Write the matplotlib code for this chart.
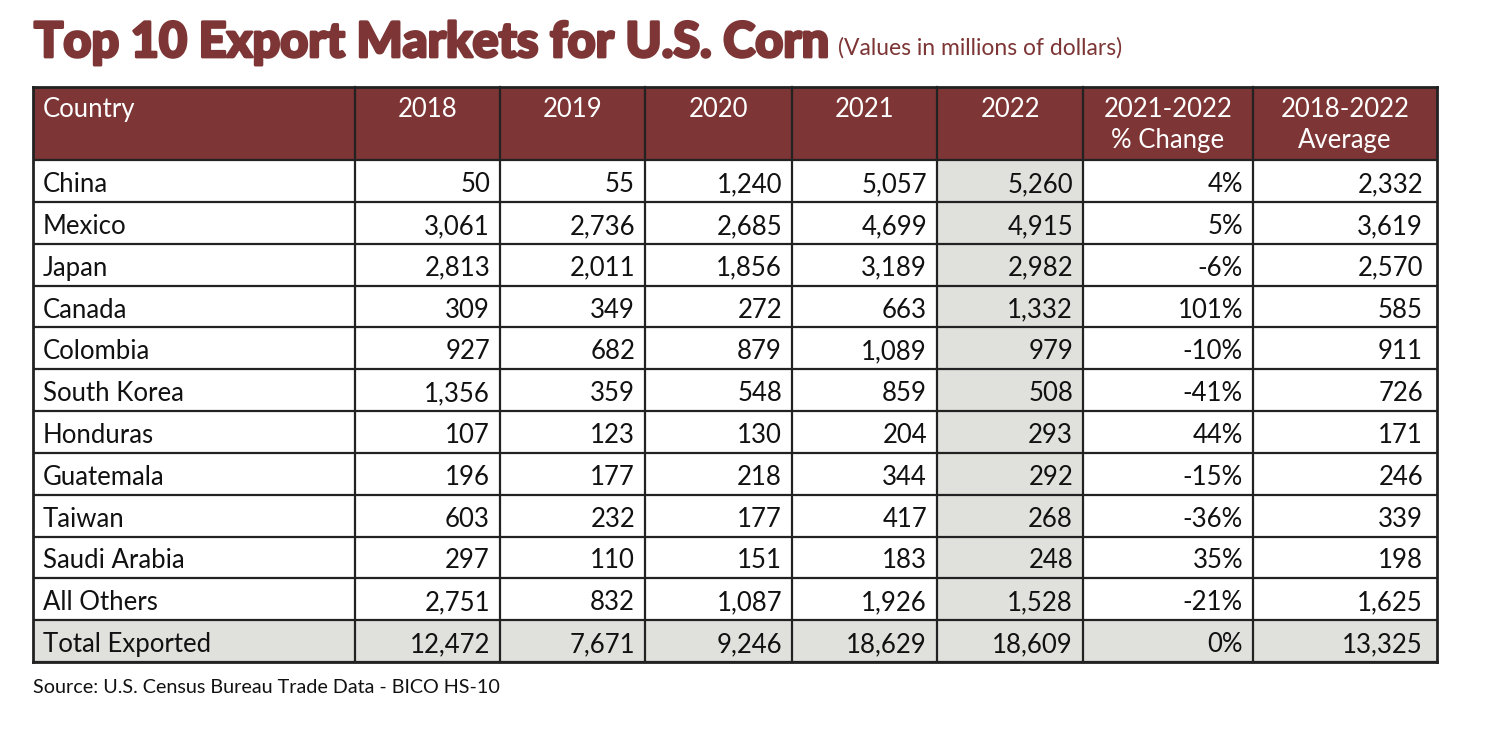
import matplotlib
matplotlib.use("Agg")
import matplotlib.pyplot as plt
from matplotlib.patches import Rectangle
import matplotlib.patheffects as pe

countries = ["China", "Mexico", "Japan", "Canada", "Colombia", "South Korea", "Honduras",
             "Guatemala", "Taiwan", "Saudi Arabia", "All Others", "Total Exported"]
v2018 = [50, 3061, 2813, 309, 927, 1356, 107, 196, 603, 297, 2751, 12472]
v2019 = [55, 2736, 2011, 349, 682, 359, 123, 177, 232, 110, 832, 7671]
v2020 = [1240, 2685, 1856, 272, 879, 548, 130, 218, 177, 151, 1087, 9246]
v2021 = [5057, 4699, 3189, 663, 1089, 859, 204, 344, 417, 183, 1926, 18629]
v2022 = [5260, 4915, 2982, 1332, 979, 508, 293, 292, 268, 248, 1528, 18609]
pct_change = [4, 5, -6, 101, -10, -41, 44, -15, -36, 35, -21, 0]
average = [2332, 3619, 2570, 585, 911, 726, 171, 246, 339, 198, 1625, 13325]
headers = ["Country", "2018", "2019", "2020", "2021", "2022", "2021-2022\n% Change", "2018-2022\nAverage"]

title = "Top 10 Export Markets for U.S. Corn"
subtitle = "(Values in millions of dollars)"
source = "Source: U.S. Census Bureau Trade Data - BICO HS-10"

RED = "#7d3535"
GREY = "#e0e0dc"
LINE = "#222222"
FONT = "Lato"
FS = 18.5

W, H = 1492, 740
fig = plt.figure(figsize=(W / 100, H / 100), dpi=100)
ax = fig.add_axes([0, 0, 1, 1])
ax.set_xlim(0, W)
ax.set_ylim(H, 0)
ax.axis("off")

col_edges = [33, 355, 500, 645, 792, 937, 1083, 1253, 1437]
head_top, head_bot = 87, 160
n_rows = len(countries)
row_h = (662 - head_bot) / n_rows

# header
ax.add_patch(Rectangle((col_edges[0], head_top), col_edges[-1] - col_edges[0], head_bot - head_top,
                       facecolor=RED, edgecolor="none", zorder=1))
for j, h in enumerate(headers):
    x0, x1 = col_edges[j], col_edges[j + 1]
    lines = h.split("\n")
    for k, ln in enumerate(lines):
        y = 117 + k * 31
        if j == 0:
            ax.text(x0 + 10, y, ln, ha="left", va="baseline", color="white", fontsize=FS, family=FONT)
        else:
            ax.text((x0 + x1) / 2, y, ln, ha="center", va="baseline", color="white", fontsize=FS, family=FONT)

cols = [v2018, v2019, v2020, v2021, v2022]
for i, name in enumerate(countries):
    y0 = head_bot + i * row_h
    yb = y0 + 32
    total = (i == n_rows - 1)
    for j in range(8):
        x0, x1 = col_edges[j], col_edges[j + 1]
        grey = total or j == 5
        ax.add_patch(Rectangle((x0, y0), x1 - x0, row_h, facecolor=GREY if grey else "white",
                               edgecolor="none", zorder=1))
    ax.text(col_edges[0] + 10, yb, name, ha="left", va="baseline", fontsize=FS, family=FONT, color="#111111")
    vals = [f"{c[i]:,}" for c in cols] + [f"{pct_change[i]}%", f"{average[i]:,}"]
    for j, s in enumerate(vals):
        pad = 14 if j == 6 else 10
        ax.text(col_edges[j + 2] - pad, yb, s, ha="right", va="baseline", fontsize=FS, family=FONT,
                color="#111111")

# grid lines
for k in range(n_rows + 1):
    y = head_bot + k * row_h
    ax.plot([col_edges[0], col_edges[-1]], [y, y], color=LINE, lw=1.6, zorder=3, solid_capstyle="butt")
for x in col_edges:
    ax.plot([x, x], [head_top, 662], color=LINE, lw=2.0 if x in (col_edges[0], col_edges[-1]) else 1.6,
            zorder=3, solid_capstyle="projecting")
ax.plot([col_edges[0], col_edges[-1]], [head_top, head_top], color=LINE, lw=2.0, zorder=3)
ax.plot([col_edges[0], col_edges[-1]], [662, 662], color=LINE, lw=2.0, zorder=3)

# titles
ax.text(34, 57, title, ha="left", va="baseline", fontsize=35, family=FONT, fontweight="black",
        color=RED, path_effects=[pe.withStroke(linewidth=2.0, foreground=RED)])
ax.text(838, 55, subtitle, ha="left", va="baseline", fontsize=16.5, family=FONT, color=RED)
ax.text(33, 693, source, ha="left", va="baseline", fontsize=14.2, family=FONT, color="#111111")

fig.savefig("out.png", dpi=100, facecolor="white")
